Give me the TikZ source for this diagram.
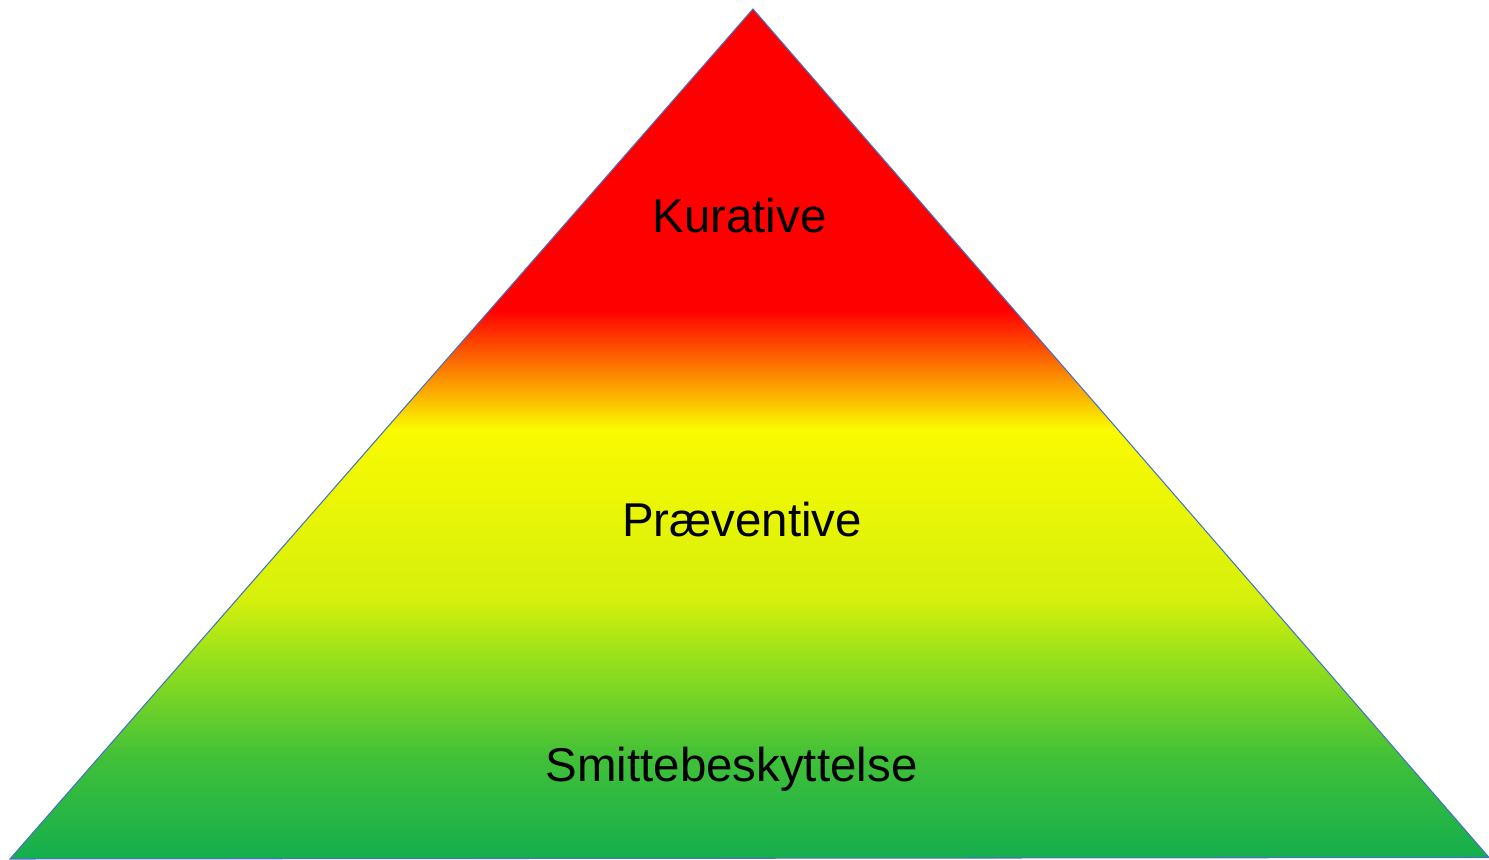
\documentclass[tikz,border=0pt]{standalone}
\usepackage{fontspec}
\setmainfont{Liberation Sans}
\definecolor{pyrred}{RGB}{255,0,0}
\definecolor{pyryellow}{RGB}{250,250,0}
\definecolor{pyrlime}{RGB}{214,240,12}
\definecolor{pyrmid}{RGB}{150,224,28}
\definecolor{pyrgreen}{RGB}{64,192,56}
\definecolor{pyrdark}{RGB}{20,174,78}
\definecolor{pyredge}{RGB}{68,114,196}
\pgfdeclareverticalshading{pyramid}{100bp}{%
  color(0bp)=(pyrdark); color(25bp)=(pyrdark); color(30.9bp)=(pyrgreen);
  color(36.7bp)=(pyrmid); color(40.3bp)=(pyrlime); color(50.3bp)=(pyryellow);
  color(57.3bp)=(pyrred); color(100bp)=(pyrred)}
\tikzset{level/.style={font=\fontsize{27}{31}\selectfont,anchor=base}}
\begin{document}
\begin{tikzpicture}
        \useasboundingbox (0,0) rectangle (29.78,17.2);
        %% Corners
        \coordinate (apex) at (15.06,17.02);
        \coordinate (left) at (0.2,0.02);
        \coordinate (right) at (29.78,0.05);
        %% Pyramid
        \shade[shading=pyramid,draw=pyredge,line width=0.6pt] (left) -- (apex) -- (right) -- cycle;
        %% Levels
        \node[level] (kurative) at (14.79,12.54) {Kurative};
        \node[level] (praeventive) at (14.84,6.47) {Præventive};
        \node[level] (smitte) at (14.63,1.57) {Smittebeskyttelse};
\end{tikzpicture}
\end{document}
